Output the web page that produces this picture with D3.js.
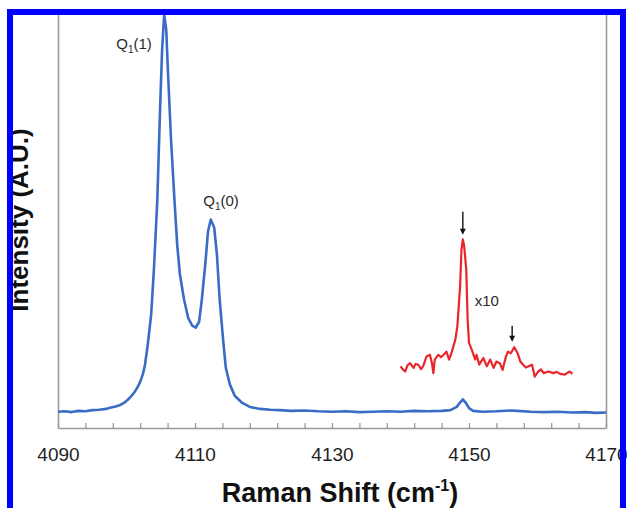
<!DOCTYPE html>
<html>
<head>
<meta charset="utf-8">
<script src="https://cdn.jsdelivr.net/npm/d3@7"></script>
<style>
  body { margin: 0; background: #fff; }
  svg { display: block; }
</style>
</head>
<body>
<script>
// ===================================================================

const CHART_WIDTH = 627
const CHART_HEIGHT = 508

const PLOT = { left: 58, right: 606, top: 15, bottom: 428 }

const FONT = '"Liberation Sans", Arial, Helvetica, sans-serif'

// blue spectrum (Raman shift in cm-1, intensity in A.U.)
const blueShift = [
  4090.0, 4091.0, 4092.0, 4093.0, 4094.0, 4095.0, 4096.0, 4097.0, 4097.6, 4098.4,
  4099.1, 4099.7, 4100.2, 4100.7, 4101.2, 4101.6, 4102.0, 4102.4, 4102.7, 4103.1,
  4103.6, 4104.0, 4104.5, 4104.9, 4105.2, 4105.5, 4105.8, 4106.1, 4106.5, 4107.0,
  4107.4, 4107.8, 4108.4, 4109.0, 4109.6, 4110.1, 4110.6, 4111.0, 4111.5, 4111.9,
  4112.3, 4112.8, 4113.2, 4113.6, 4114.1, 4114.5, 4115.1, 4115.8, 4116.9, 4118.0,
  4119.5, 4121.0, 4122.4, 4124.0, 4126.0, 4128.0, 4130.0, 4132.0, 4134.0, 4136.0,
  4138.0, 4140.0, 4142.0, 4144.0, 4146.0, 4147.3, 4148.2, 4148.7, 4149.1, 4149.5,
  4150.0, 4150.6, 4152.0, 4154.0, 4156.0, 4157.0, 4159.0, 4161.0, 4163.0, 4165.0,
  4167.0, 4168.5, 4170.0
]
const blueIntensity = [
  0.3, 0.4, 0.2, 0.5, 0.4, 0.7, 0.8, 1.0, 1.3, 1.6,
  2.0, 2.6, 3.3, 4.2, 5.3, 6.4, 7.8, 9.8, 12.1, 17.1,
  24.7, 36.0, 53.6, 76.3, 91.4, 100, 96.4, 83.9, 68.7, 53.6,
  42.3, 34.8, 28.5, 23.9, 21.9, 21.4, 22.9, 28.5, 37.3, 45.6,
  48.6, 46.6, 39.8, 28.5, 18.4, 11.3, 7.1, 4.3, 2.5, 1.5,
  1.0, 0.8, 0.7, 0.5, 0.6, 0.4, 0.3, 0.4, 0.2, 0.3,
  0.4, 0.3, 0.5, 0.4, 0.5, 0.7, 1.5, 2.6, 3.4, 2.6,
  1.2, 0.5, 0.3, 0.4, 0.6, 0.5, 0.3, 0.2, 0.3, 0.1,
  0.2, 0.0, 0.1
]

// red trace, x10 zoom of the weak band, offset upwards
const redShift = [
  4140.0, 4140.3, 4140.7, 4141.0, 4141.4, 4141.9, 4142.2, 4142.6, 4143.0, 4143.3,
  4143.8, 4144.3, 4144.6, 4144.8, 4145.0, 4145.5, 4145.9, 4146.3, 4146.7, 4147.1,
  4147.5, 4148.0, 4148.3, 4148.7, 4148.9, 4149.1, 4149.3, 4149.6, 4149.8, 4150.0,
  4150.4, 4150.9, 4151.1, 4151.5, 4151.8, 4152.1, 4152.6, 4153.1, 4153.6, 4154.0,
  4154.5, 4154.9, 4155.4, 4155.7, 4156.1, 4156.6, 4157.1, 4157.5, 4157.9, 4158.3,
  4158.7, 4159.2, 4159.6, 4160.1, 4160.5, 4160.9, 4161.6, 4162.3, 4162.8, 4163.3,
  4164.0, 4164.4, 4164.7, 4165.1
]
const redIntensity = [
  11.7, 11.0, 10.4, 11.9, 12.5, 11.3, 12.3, 12.1, 11.0, 11.7,
  14.2, 14.6, 12.4, 10.0, 13.4, 14.6, 14.0, 14.6, 15.4, 13.4,
  15.4, 18.4, 21.7, 31.8, 41.0, 43.6, 41.9, 36.0, 23.4, 17.6,
  15.9, 13.4, 14.6, 12.1, 13.0, 13.8, 11.7, 13.4, 11.3, 12.9,
  12.5, 10.8, 14.2, 15.4, 15.0, 16.5, 15.0, 12.9, 12.1, 11.4,
  11.7, 12.1, 9.1, 10.4, 10.9, 10.0, 10.4, 10.0, 10.3, 9.8,
  9.6, 10.1, 10.4, 9.8
]

const tickShifts = d3.range(4090, 4171, 4)
const tickLabels = [4090, 4110, 4130, 4150, 4170]

// arrows marking the two weak bands
const arrowShift = [4149.1, 4156.3]
const arrowTip = [44.8, 17.9]
const arrowLength = [23, 16]

// ===================================================================

const x = d3.scaleLinear()
  .domain([4090, 4170])
  .range([PLOT.left, PLOT.right])
const y = d3.scaleLinear()
  .domain([-3.8, 100])
  .range([PLOT.bottom, PLOT.top])

const line = d3.line()
  .x(d => x(d[0]))
  .y(d => y(d[1]))

const svg = d3.select('body')
  .append('svg')
    .attr('width', CHART_WIDTH)
    .attr('height', CHART_HEIGHT)
    .style('font-family', FONT)

svg.append('rect')
  .attr('width', '100%')
  .attr('height', '100%')
  .attr('fill', 'white')

// frame lines of the plot
const xAxis = svg.append('g')
  .attr('transform', `translate(0, ${PLOT.bottom})`)
  .call(d3.axisBottom(x)
    .tickValues(tickShifts)
    .tickSizeInner(-5)
    .tickSizeOuter(0)
    .tickFormat(d => tickLabels.includes(d) ? d : ''))

xAxis.select('.domain').attr('stroke', '#9a9a9a').attr('stroke-width', 1.6)
xAxis.selectAll('.tick line').attr('stroke', '#9a9a9a').attr('stroke-width', 1.3)
xAxis.selectAll('.tick text')
  .attr('y', 33)
  .attr('dy', 0)
  .attr('fill', '#1e1e1e')
  .style('font-size', '19px')
  .style('font-family', FONT)

const yRange = [PLOT.bottom, 12]
svg.append('g')
  .attr('transform', `translate(${PLOT.left}, 0)`)
  .call(d3.axisLeft(y.copy().range(yRange)).tickValues([]).tickSizeOuter(0))
  .select('.domain').attr('stroke', '#9a9a9a').attr('stroke-width', 1.6)

svg.append('g')
  .attr('transform', `translate(${PLOT.right}, 0)`)
  .call(d3.axisRight(y.copy().range(yRange)).tickValues([]).tickSizeOuter(0))
  .select('.domain').attr('stroke', '#9a9a9a').attr('stroke-width', 1.6)

// spectra
svg.append('path')
  .datum(d3.zip(blueShift, blueIntensity))
  .attr('d', line)
  .attr('fill', 'none')
  .attr('stroke', '#3a6cc6')
  .attr('stroke-width', 2.6)
  .attr('stroke-linejoin', 'round')

svg.append('path')
  .datum(d3.zip(redShift, redIntensity))
  .attr('d', line)
  .attr('fill', 'none')
  .attr('stroke', '#e8262b')
  .attr('stroke-width', 2.2)
  .attr('stroke-linejoin', 'round')

// arrows
arrowShift.forEach((s, i) => {
  const ax = x(s)
  const tip = y(arrowTip[i])
  const top = tip - arrowLength[i]
  svg.append('line')
    .attr('x1', ax).attr('x2', ax)
    .attr('y1', top).attr('y2', tip - 5)
    .attr('stroke', '#111')
    .attr('stroke-width', 1.4)
  svg.append('path')
    .attr('d', `M${ax - 3},${tip - 6} L${ax + 3},${tip - 6} L${ax},${tip} Z`)
    .attr('fill', '#111')
})

// peak labels
const labelQ = (shift, intensity, level) => {
  const t = svg.append('text')
    .attr('x', x(shift))
    .attr('y', y(intensity))
    .attr('text-anchor', 'middle')
    .attr('fill', '#2a2a2a')
    .style('font-size', '15px')
  t.append('tspan').text('Q')
  t.append('tspan').attr('dy', 4).style('font-size', '10px').text('1')
  t.append('tspan').attr('dy', -4).text(`(${level})`)
}
labelQ(4101.1, 91.4, 1)
labelQ(4113.8, 52.0, 0)

svg.append('text')
  .attr('x', x(4152.6))
  .attr('y', y(26.9))
  .attr('text-anchor', 'middle')
  .attr('fill', '#2a2a2a')
  .style('font-size', '15px')
  .text('x10')

// axis titles
const xTitle = svg.append('text')
  .attr('x', 340)
  .attr('y', 502)
  .attr('text-anchor', 'middle')
  .attr('fill', '#111')
  .style('font-size', '27px')
  .style('font-weight', 'bold')
xTitle.append('tspan').text('Raman Shift (cm')
xTitle.append('tspan').attr('dy', -11).style('font-size', '16px').text('-1')
xTitle.append('tspan').attr('dy', 11).text(')')

svg.append('text')
  .attr('transform', 'translate(28, 220) rotate(-90)')
  .attr('text-anchor', 'middle')
  .attr('fill', '#111')
  .style('font-size', '26px')
  .style('font-weight', 'bold')
  .text('Intensity (A.U.)')

// outer blue frame
svg.append('rect')
  .attr('x', 10)
  .attr('y', 12)
  .attr('width', 613)
  .attr('height', 500)
  .attr('fill', 'none')
  .attr('stroke', '#0000ff')
  .attr('stroke-width', 6)
</script>
</body>
</html>
